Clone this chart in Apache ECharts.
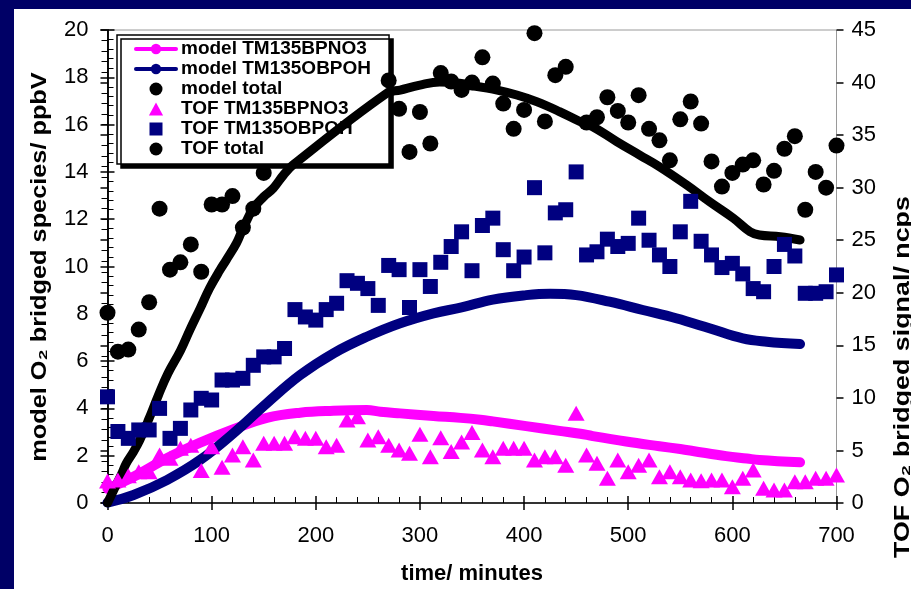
<!DOCTYPE html>
<html><head><meta charset="utf-8">
<script src="https://cdn.jsdelivr.net/npm/echarts@6/dist/echarts.min.js"></script>
<style>html,body{margin:0;padding:0;background:#000066}#c{width:911px;height:589px}</style>
</head><body><div id="c"></div>
<script>
const FONT = "'Liberation Sans', Arial, Helvetica, sans-serif";

// ---- model curves (left axis, ppbV) ----
const modelNO3Time = [0,25,57,89,121,153,185,217,249,262,281,313,339,358,370,402,434,454,466,498,530,550,562,594,614,626,665];
const modelNO3     = [0.6,1.11,1.89,2.55,3.12,3.6,3.82,3.9,3.93,3.86,3.79,3.68,3.6,3.52,3.45,3.25,3.05,2.93,2.83,2.6,2.4,2.28,2.2,1.98,1.88,1.82,1.72];

const modelOHTime = [0,25,57,89,121,153,185,217,249,281,313,340,370,402,425,450,482,514,546,578,610,633,665];
const modelOH     = [0.02,0.34,0.97,1.82,2.95,4.22,5.41,6.33,7.03,7.6,8.02,8.27,8.6,8.79,8.85,8.79,8.51,8.16,7.81,7.39,6.96,6.82,6.72];

const modelTotTime = [0,6,14,18,25,31,40,49,58,70,79,89,98,108,114,124,130,140,150,159,169,178,268,281,300,319,338,350,370,393,412,434,454,466,489,511,530,556,578,601,617,626,646,665];
const modelTot     = [0,0.55,1.27,1.68,2.17,2.66,3.58,4.57,5.48,6.44,7.31,8.23,9.08,9.85,10.27,11.0,11.6,12.46,12.95,13.3,13.87,14.29,17.32,17.46,17.67,17.8,17.75,17.65,17.5,17.25,16.97,16.55,16.12,15.91,15.28,14.71,14.22,13.45,12.74,12.04,11.47,11.33,11.26,11.12];

// ---- TOF measurements (right axis, ncps) ----
const tofTime = [0,10,20,30,40,50,60,70,80,90,100,110,120,130,140,150,160,170,180,190,200,210,220,230,240,250,260,270,280,290,300,310,320,330,340,350,360,370,380,390,400,410,420,430,440,450,460,470,480,490,500,510,520,530,540,550,560,570,580,590,600,610,620,630,640,650,660,670,680,690,700];
const tofNO3 = [2.1,2.2,2.6,2.98,2.98,4.57,4.25,5.2,5.5,3.1,5.36,
  3.4,4.57,5.36,4.09,5.68,5.68,5.68,6.3,6.15,6.15,
  5.36,5.5,7.9,8.2,6.0,6.3,5.5,5.04,4.73,6.55,
  4.4,6.2,4.9,5.8,6.7,5.04,4.4,5.2,5.2,5.2,
  4.09,4.4,4.4,3.6,8.53,4.57,3.78,2.35,4.09,2.98,
  3.6,4.09,2.5,2.98,2.5,2.19,2.12,2.19,2.19,1.55,
  2.35,3.14,1.4,1.24,1.24,2.03,2.03,2.35,2.35,2.66];
const tofOH = [10.1,6.8,6.15,6.95,6.95,9.0,6.15,7.1,8.85,9.96,9.8,
  11.7,11.7,11.86,13.1,13.9,13.9,14.7,18.4,17.7,17.4,
  18.4,19.0,21.15,20.9,20.4,18.8,22.6,22.2,18.6,22.2,
  20.6,22.9,24.4,25.8,22.1,26.4,27.1,24.1,22.1,23.4,
  30.0,23.8,27.6,27.9,31.5,23.6,23.9,25.1,24.4,24.7,
  27.1,25.0,23.6,22.5,25.8,28.7,24.9,23.6,22.4,22.8,
  21.8,20.4,20.1,22.5,24.6,23.5,19.95,19.95,20.1,21.7];
const tofTotTime = [0,10,20,30,40,50,60,70,80,90,100,110,120,130,140,150,270,280,290,300,310,320,330,340,350,360,370,380,390,400,410,420,430,440,460,470,480,490,500,510,520,530,540,550,560,570,580,590,600,610,620,630,640,650,660,670,680,690,700];
const tofTot = [18.1,14.4,14.6,16.5,19.1,28.0,22.2,22.9,24.6,22.0,28.4,28.4,29.2,26.2,28.0,31.4,40.2,37.5,33.4,37.2,34.2,40.9,40.1,39.3,40.0,42.4,39.9,38.0,35.6,37.4,44.7,36.3,40.7,41.5,36.2,36.7,38.6,37.3,36.2,38.8,35.6,34.5,32.6,36.5,38.2,36.1,32.5,30.1,31.4,32.2,32.6,30.3,31.6,33.7,34.9,27.9,31.5,30.0,34.0];

const seriesNames = ['model TM135BPNO3','model TM135OBPOH','model total','TOF TM135BPNO3','TOF TM135OBPOH','TOF total'];
const xName = 'time/ minutes';
const yLeftName = 'model O\u2082 bridged species/ ppbV';
const yRightName = 'TOF O\u2082 bridged signal/ ncps';

const zip = (a, b) => a.map((t, i) => [t, b[i]]);
const MAG = '#FF00FF', NAVY = '#000080', BLK = '#000000';
const TITLE_FONT = "bold 22px 'Liberation Sans', Arial, sans-serif";
const TRI_ICON = 'path://M6,0 L12,11 L0,11 Z';
const SQ_ICON = 'path://M0,0 L11,0 L11,11 L0,11 Z';

const chart = echarts.init(document.getElementById('c'), null, {renderer: 'canvas'});

function axisBase(min, max, interval) {
  return {
    type: 'value', min: min, max: max, interval: interval, gridIndex: 0,
    splitLine: {show: false},
    axisLine: {show: true, lineStyle: {color: BLK, width: 1.5}},
    axisTick: {show: true, inside: true, length: 7, lineStyle: {color: BLK, width: 1.5}},
    minorTick: {show: true, splitNumber: 5, length: 6, lineStyle: {color: BLK, width: 1}},
    axisLabel: {color: BLK, fontSize: 22, fontFamily: FONT}
  };
}
function axisDup(min, max, interval, pos) {
  return {
    type: 'value', min: min, max: max, interval: interval, gridIndex: 0, position: pos,
    splitLine: {show: false}, axisLine: {show: false}, axisLabel: {show: false},
    axisTick: {show: true, inside: false, length: 7, lineStyle: {color: BLK, width: 1.5}},
    minorTick: {show: false}
  };
}

const xMain = Object.assign(axisBase(0, 700, 100), {
  position: 'bottom', name: xName, nameLocation: 'middle', nameGap: 60,
  nameTextStyle: {fontSize: 22, fontWeight: 'bold', color: BLK, fontFamily: FONT}
});
xMain.axisLabel.margin = 22;
const yLeft = Object.assign(axisBase(0, 20, 2), {position: 'left'});
yLeft.axisLabel.margin = 19;
const yRight = Object.assign(axisBase(0, 45, 5), {position: 'right'});
yRight.axisLabel.margin = 15;

const option = {
  backgroundColor: '#000066',
  animation: false,
  textStyle: {fontFamily: FONT},
  graphic: [
    {type: 'rect', left: 14, top: 9, z: -10, shape: {width: 897, height: 580}, style: {fill: '#ffffff'}},
    {type: 'text', x: 40, y: 267, rotation: Math.PI / 2, scaleX: 1.15, z: 10,
     style: {text: yLeftName, fill: BLK, font: TITLE_FONT,
             align: 'center', verticalAlign: 'middle', textAlign: 'center', textVerticalAlign: 'middle'}},
    {type: 'text', x: 903, y: 377, rotation: Math.PI / 2, scaleX: 1.22, z: 10,
     style: {text: yRightName, fill: BLK, font: TITLE_FONT,
             align: 'center', verticalAlign: 'middle', textAlign: 'center', textVerticalAlign: 'middle'}}
  ],
  grid: {left: 107.5, right: 74.5, top: 30, bottom: 86, show: true, borderColor: '#9a9a9a', borderWidth: 1,
         backgroundColor: 'transparent', containLabel: false, outerBoundsMode: 'none'},
  xAxis: [xMain, axisDup(0, 700, 100, 'bottom')],
  yAxis: [yLeft, yRight, axisDup(0, 20, 2, 'left'), axisDup(0, 45, 5, 'right')],
  legend: {
    orient: 'vertical', left: 117, top: 35,
    backgroundColor: '#ffffff', borderColor: BLK, borderWidth: 1.5, borderRadius: 0,
    shadowColor: '#000000', shadowBlur: 0, shadowOffsetX: 4, shadowOffsetY: 4,
    padding: [4, 18, 5, 17], itemGap: 0, itemWidth: 40, itemHeight: 13,
    symbolKeepAspect: true,
    textStyle: {fontSize: 19, fontWeight: 'bold', color: BLK, fontFamily: FONT, lineHeight: 20},
    data: [
      {name: seriesNames[0], lineStyle: {width: 4}},
      {name: seriesNames[1], lineStyle: {width: 4}},
      {name: seriesNames[2], icon: 'circle'},
      {name: seriesNames[3], icon: TRI_ICON},
      {name: seriesNames[4], icon: SQ_ICON},
      {name: seriesNames[5], icon: 'circle'}
    ]
  },
  series: [
    {name: seriesNames[0], type: 'line', xAxisIndex: 0, yAxisIndex: 0, data: zip(modelNO3Time, modelNO3),
     smooth: 0.4, symbol: 'circle', showSymbol: false, symbolSize: 10, z: 2,
     lineStyle: {color: MAG, width: 10, cap: 'round', join: 'round'}, itemStyle: {color: MAG}},
    {name: seriesNames[1], type: 'line', xAxisIndex: 0, yAxisIndex: 0, data: zip(modelOHTime, modelOH),
     smooth: 0.4, symbol: 'circle', showSymbol: false, symbolSize: 10, z: 3,
     lineStyle: {color: NAVY, width: 10, cap: 'round', join: 'round'}, itemStyle: {color: NAVY}},
    {name: seriesNames[2], type: 'line', xAxisIndex: 0, yAxisIndex: 0, data: zip(modelTotTime, modelTot),
     smooth: 0.4, symbol: 'circle', showSymbol: false, symbolSize: 9, z: 4,
     lineStyle: {color: BLK, width: 9, cap: 'round', join: 'round'}, itemStyle: {color: BLK}},
    {name: seriesNames[3], type: 'scatter', xAxisIndex: 0, yAxisIndex: 1, data: zip(tofTime, tofNO3),
     symbol: 'triangle', symbolSize: [17, 15], z: 5, itemStyle: {color: MAG, opacity: 1}},
    {name: seriesNames[4], type: 'scatter', xAxisIndex: 0, yAxisIndex: 1, data: zip(tofTime, tofOH),
     symbol: 'rect', symbolSize: 15, z: 6, itemStyle: {color: NAVY, opacity: 1}},
    {name: seriesNames[5], type: 'scatter', xAxisIndex: 0, yAxisIndex: 1, data: zip(tofTotTime, tofTot),
     symbol: 'circle', symbolSize: 16, z: 7, itemStyle: {color: BLK, opacity: 1}}
  ]
};
chart.setOption(option);
</script>
</body></html>
